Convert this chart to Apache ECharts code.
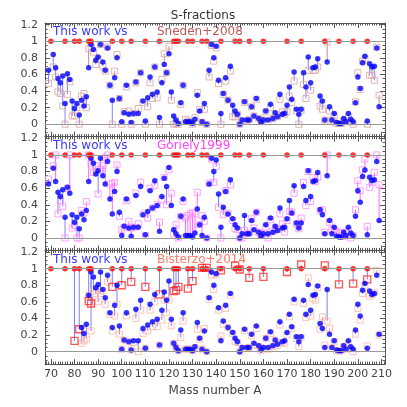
<!DOCTYPE html>
<html>
<head>
<meta charset="utf-8">
<script src="https://cdn.jsdelivr.net/npm/echarts@6/dist/echarts.min.js"></script>
<style>
  html, body { margin: 0; padding: 0; background: #fff; }
  #chart { width: 407px; height: 407px; }
</style>
</head>
<body>
<div id="chart"></div>
<script>
// mass numbers of the isotopes (A)
const massA = [69,
  71, 72, 73, 74, 75, 76, 77, 78, 79, 80,
  81, 82, 83, 84, 85, 86, 87, 88, 89, 90,
  91, 92, 93, 94, 95, 96, 97, 98, 99, 100,
  101, 102, 103, 104, 105, 106, 107, 108, 109, 110,
  111, 112, 113, 114, 115, 116, 117, 118, 119, 120,
  121, 122, 123, 124, 125, 126, 127, 128, 129, 130,
  131, 132, 133, 134, 135, 136, 137, 138, 139, 140,
  141, 142, 143, 144, 145, 146, 147, 148, 149, 150,
  151, 152, 153, 154, 155, 156, 157, 158, 159, 160,
  161, 162, 163, 164, 165, 166, 167, 168, 169, 170,
  171, 172, 173, 174, 175, 176, 177, 178, 179, 180,
  181, 182, 183, 184, 185, 186, 187, 188, 189, 190,
  191, 192, 193, 194, 195, 196, 197, 198, 199, 200,
  201, 202, 203, 204, 205, 206, 207, 208, 209]

// s-fractions, this work
const thisWork = [0.65,
  0.84, 0.68, 0.55, 0.50, 0.58, 0.25, 0.61, 0.54, 0.28, 0.19,
  0.25, 0.11, 0.29, 0.22, 0.33, 0.68, 0.96, 0.90, 0.77, 0.81,
  0.96, 0.75, 0.65, 0.92, 0.47, 0.29, 0.56, 0.80, 0.31, 0.03,
  0.14, 0.47, 0.12, 0.02, 0.13, 0.51, 0.13, 0.62, 0.28, 0.04,
  0.32, 0.57, 0.36, 0.69, 0.39, 0.08, 0.50, 0.72, 0.62, 0.85,
  0.39, 0.10, 0.05, 0.01, 0.26, 0.47, 0.03, 0.03, 0.03, 0.01,
  0.06, 0.35, 0.16, 0.03, 0.25, 0.00, 0.65, 0.96, 0.80, 0.94,
  0.53, 0.13, 0.37, 0.56, 0.29, 0.70, 0.23, 0.16, 0.12, 0.00,
  0.05, 0.27, 0.05, 0.05, 0.21, 0.10, 0.31, 0.07, 0.02, 0.05,
  0.16, 0.05, 0.24, 0.07, 0.14, 0.09, 0.36, 0.12, 0.13, 0.23,
  0.45, 0.30, 0.63, 0.18, 0.12, 0.18, 0.62, 0.45, 0.81, 0.50,
  0.68, 0.69, 0.79, 0.34, 0.28, 0.05, 0.75, 0.21, 0.05, 0.13,
  0.02, 0.01, 0.01, 0.07, 0.03, 0.13, 0.06, 0.03, 0.26, 0.57,
  0.43, 0.74, 0.82, 0.04, 0.73, 0.69, 0.70, 0.92, 0.21]

const sneden = [0.49,
  0.69, 0.57, 0.39, 0.37, 0.22, 0.00, 0.36, 0.51, 0.10, 0.10,
  0.20, 0.00, 0.34, 0.37, 0.20, 0.91, 0.93, 0.87, 0.72, 0.78,
  0.96, 0.70, 0.64, 0.93, 0.47, 0.00, 0.64, 0.84, 0.31, 0.00,
  0.15, 0.45, 0.16, 0.00, 0.13, 0.50, 0.19, 0.62, 0.26, 0.00,
  0.21, 0.50, 0.31, 0.69, 0.32, 0.00, 0.54, 0.85, 0.62, 0.94,
  0.29, 0.00, 0.01, 0.00, 0.24, 0.47, 0.06, 0.04, 0.03, 0.00,
  0.08, 0.38, 0.18, 0.02, 0.18, 0.00, 0.57, 0.95, 0.76, 0.92,
  0.49, 0.00, 0.36, 0.52, 0.29, 0.64, 0.09, 0.09, 0.12, 0.00,
  0.04, 0.26, 0.04, 0.06, 0.21, 0.10, 0.30, 0.07, 0.05, 0.05,
  0.15, 0.03, 0.20, 0.07, 0.12, 0.09, 0.30, 0.15, 0.12, 0.15,
  0.34, 0.26, 0.52, 0.16, 0.00, 0.17, 0.48, 0.31, 0.65, 0.41,
  0.65, 0.65, 0.69, 0.22, 0.18, 0.05, 0.99, 0.16, 0.05, 0.10,
  0.01, 0.01, 0.01, 0.04, 0.04, 0.09, 0.03, 0.00, 0.27, 0.62,
  0.42, 0.76, 0.79, 0.00, 0.59, 0.59, 0.53, 0.93, 0.35]

const goriely = [0.71,
  0.87, 1.00, 0.29, 0.45, 0.38, 0.00, 0.60, 1.00, 0.12, 0.15,
  0.00, 0.00, 0.33, 0.30, 0.44, 1.00, 0.90, 0.79, 0.87, 0.53,
  0.83, 0.87, 0.97, 1.00, 0.65, 0.66, 0.67, 0.88, 0.26, 0.10,
  0.13, 0.45, 0.20, 0.12, 0.13, 0.54, 0.17, 0.67, 0.29, 0.03,
  0.24, 0.60, 0.36, 0.63, 0.40, 0.19, 0.46, 0.73, 0.40, 0.82,
  0.54, 0.05, 0.16, 0.00, 0.26, 0.44, 0.24, 0.27, 0.29, 0.31,
  0.29, 0.55, 0.16, 0.27, 0.20, 0.00, 0.66, 0.95, 0.67, 0.86,
  0.37, 0.00, 0.28, 0.57, 0.30, 0.64, 0.21, 0.11, 0.10, 0.00,
  0.00, 0.09, 0.05, 0.06, 0.23, 0.12, 0.31, 0.07, 0.04, 0.05,
  0.13, 0.00, 0.22, 0.08, 0.12, 0.10, 0.29, 0.17, 0.07, 0.21,
  0.32, 0.31, 0.54, 0.17, 0.11, 0.24, 0.67, 0.39, 0.80, 0.44,
  0.73, 0.68, 0.73, 0.33, 0.34, 0.07, 1.00, 0.19, 0.10, 0.10,
  0.07, 0.06, 0.07, 0.02, 0.05, 0.09, 0.00, 0.03, 0.34, 0.69,
  0.57, 0.82, 0.95, 0.14, 0.61, 0.67, 0.79, 1.00, 0.64]

const bisterzo = [null,
  null, null, null, null, null, null, null, null, null, null,
  null, null, 0.10, 0.13, 0.15, 0.68, 0.25, 0.73, 0.70, 0.60,
  0.70, 0.73, 0.57, 0.84, 0.45, 0.25, 0.43, 0.57, 0.21, 0.03,
  0.14, 0.43, 0.12, 0.02, 0.11, 0.40, 0.00, 0.50, 0.22, 0.04,
  0.25, 0.50, 0.30, 0.60, 0.30, 0.08, 0.38, 0.62, 0.47, 0.62,
  0.31, 0.10, 0.05, 0.01, 0.17, 0.37, 0.03, 0.03, 0.03, 0.01,
  0.05, 0.27, 0.15, 0.03, 0.28, 0.00, 0.63, 0.92, 0.75, 0.93,
  0.50, 0.19, 0.33, 0.52, 0.29, 0.68, 0.22, 0.12, 0.11, 0.00,
  0.04, 0.25, 0.04, 0.05, 0.19, 0.08, 0.28, 0.06, 0.01, 0.04,
  0.16, 0.03, 0.22, 0.06, 0.14, 0.08, 0.32, 0.11, 0.10, 0.20,
  0.42, 0.28, 0.60, 0.16, 0.06, 0.17, 0.58, 0.41, 0.89, 0.43,
  0.64, 0.62, 0.77, 0.27, 0.42, 0.08, 0.37, 0.28, 0.04, 0.12,
  0.01, 0.01, 0.01, 0.06, 0.03, 0.10, 0.04, 0.00, 0.21, 0.52,
  0.38, 0.70, 0.80, 0.07, 0.67, 0.69, 0.71, 0.98, 0.20]

// s-only isotopes (s-fraction 1 in this work) and Bisterzo+2014 values for them
const sOnlyA = [70, 76, 80, 82, 86, 87, 96, 100, 104, 110, 116, 122, 123, 124, 128, 130,
  134, 136, 142, 148, 150, 154, 160, 170, 176, 186, 192, 198, 204]
const bisterzoSOnly = [null, null, 0.13, 0.27, 0.61, 0.58, 0.78, 0.80, 0.84, 0.78, 0.69, 0.73, 0.74, 0.78, 0.76, 0.85,
  1.01, 1.01, 0.98, 1.04, 0.99, 0.89, 0.90, 0.96, 1.05, 1.04, 0.81, 0.82, 0.87]

const panels = [
  { name: 'Sneden+2008', ref: sneden, sRef: null, square: '#d8a4a4', up: '#c88888', text: '#c05858' },
  { name: 'Goriely1999', ref: goriely, sRef: null, square: '#ff88ff', up: '#ff66ff', text: '#ff44ff' },
  { name: 'Bisterzo+2014', ref: bisterzo, sRef: bisterzoSOnly, square: '#ffb4a8', up: '#ff9a8a', text: '#ff7a66' }
]

const chart = echarts.init(document.getElementById('chart'))

const gridTop = 23
const gridH = 113.7
const grids = []
const xAxes = []
const yAxes = []
const series = []
const graphics = []
const font = 'DejaVu Sans'

function axisBase(extra) {
  return Object.assign({
    axisLine: { show: true, onZero: false, lineStyle: { color: '#555', width: 1 } },
    axisTick: { show: true, inside: true, length: 5, lineStyle: { color: '#555' } },
    minorTick: { show: true, length: 2.5, lineStyle: { color: '#555' } },
    splitLine: { show: false },
    axisLabel: { show: false }
  }, extra)
}

panels.forEach((p, i) => {
  grids.push({ left: 45, right: 22, top: gridTop + i * gridH, height: gridH })
  const xCommon = { gridIndex: i, type: 'value', min: 67.5, max: 211.5, minInterval: 10, maxInterval: 10 }
  xAxes.push(axisBase(Object.assign({}, xCommon, {
    position: 'bottom',
    minorTick: { show: true, splitNumber: 10, length: 2.5, lineStyle: { color: '#555' } },
    axisLabel: {
      show: i === 2, color: '#444', fontSize: 11, fontFamily: font, margin: 5,
      showMinLabel: false, showMaxLabel: false
    },
    name: i === 2 ? 'Mass number A' : '',
    nameLocation: 'middle', nameGap: 21,
    nameTextStyle: { color: '#444', fontSize: 12, fontFamily: font }
  })))
  xAxes.push(axisBase(Object.assign({}, xCommon, {
    position: 'top',
    minorTick: { show: true, splitNumber: 10, length: 2.5, lineStyle: { color: '#555' } }
  })))
  const yCommon = { gridIndex: i, type: 'value', min: -0.15, max: 1.22, minInterval: 0.2, maxInterval: 0.2 }
  yAxes.push(axisBase(Object.assign({}, yCommon, {
    position: 'left',
    minorTick: { show: true, splitNumber: 4, length: 2.5, lineStyle: { color: '#555' } },
    axisLabel: {
      show: true, color: '#444', fontSize: 11, fontFamily: font, margin: 7,
      showMinLabel: false, showMaxLabel: false,
      formatter: v => (Math.abs(v) < 1e-9 ? '0' : String(+v.toFixed(1)))
    }
  })))
  yAxes.push(axisBase(Object.assign({}, yCommon, {
    position: 'right',
    minorTick: { show: true, splitNumber: 4, length: 2.5, lineStyle: { color: '#555' } }
  })))

  // pairs: [A, this work, reference, isSOnly]
  const pairs = []
  massA.forEach((a, k) => {
    if (p.ref[k] != null) pairs.push([a, thisWork[k], p.ref[k], 0])
  })
  if (p.sRef) {
    sOnlyA.forEach((a, k) => {
      if (p.sRef[k] != null) pairs.push([a, 1, p.sRef[k], 1])
    })
  }

  const xi = i * 2
  const yi = i * 2

  // reference lines y = 0 and y = 1
  series.push({
    type: 'line', xAxisIndex: xi, yAxisIndex: yi, data: [], silent: true,
    markLine: {
      silent: true, symbol: 'none', label: { show: false }, animation: false,
      lineStyle: { color: '#9a9a9a', type: 'solid', width: 1 },
      data: [{ yAxis: 0 }, { yAxis: 1 }]
    }
  })

  // connecting segments
  series.push({
    type: 'custom', xAxisIndex: xi, yAxisIndex: yi, data: pairs,
    encode: { x: 0, y: [1, 2] }, silent: true, z: 2,
    renderItem: (params, api) => {
      const a = api.value(0), v = api.value(1), r = api.value(2)
      const p1 = api.coord([a, v])
      const p2 = api.coord([a, r])
      return {
        type: 'line',
        shape: { x1: p1[0], y1: p1[1], x2: p2[0], y2: p2[1] },
        style: { stroke: r > v ? p.up : '#8080ff', lineWidth: 1 }
      }
    }
  })

  // reference squares
  series.push({
    type: 'scatter', xAxisIndex: xi, yAxisIndex: yi, z: 3, silent: true,
    symbol: 'rect', symbolSize: 6,
    itemStyle: { color: 'rgba(0,0,0,0)', borderColor: p.square, borderWidth: 1 },
    data: pairs.filter(d => !d[3]).map(d => [d[0], d[2]])
  })
  if (p.sRef) {
    series.push({
      type: 'scatter', xAxisIndex: xi, yAxisIndex: yi, z: 3, silent: true,
      symbol: 'rect', symbolSize: 7,
      itemStyle: { color: 'rgba(0,0,0,0)', borderColor: '#ff2a2a', borderWidth: 1.3 },
      data: pairs.filter(d => d[3]).map(d => [d[0], d[2]])
    })
  }

  // this work: blue dots
  series.push({
    type: 'scatter', xAxisIndex: xi, yAxisIndex: yi, z: 4, silent: true,
    symbol: 'circle', symbolSize: 5.5,
    itemStyle: { color: '#0000ff' },
    data: pairs.filter(d => !d[3]).map(d => [d[0], d[1]])
  })
  // this work: s-only isotopes
  series.push({
    type: 'scatter', xAxisIndex: xi, yAxisIndex: yi, z: 4, silent: true,
    symbol: 'circle', symbolSize: 5.5,
    itemStyle: { color: '#ff0000' },
    data: sOnlyA.map(a => [a, 1])
  })

  const ty = gridTop + i * gridH + 9
  graphics.push({
    type: 'text', x: 53, y: ty, silent: true,
    style: { text: 'This work vs', fill: '#3838ff', font: '12px ' + font, textVerticalAlign: 'middle' }
  })
  graphics.push({
    type: 'text', x: 157, y: ty, silent: true,
    style: { text: p.name, fill: p.text, font: '12px ' + font, textVerticalAlign: 'middle' }
  })
})

graphics.push({
  type: 'text', x: 203, y: 16, silent: true,
  style: { text: 'S-fractions', fill: '#333', font: '12px ' + font, textAlign: 'center', textVerticalAlign: 'middle' }
})

chart.setOption({
  animation: false,
  grid: grids,
  xAxis: xAxes,
  yAxis: yAxes,
  series: series,
  graphic: graphics
})
</script>
</body>
</html>
